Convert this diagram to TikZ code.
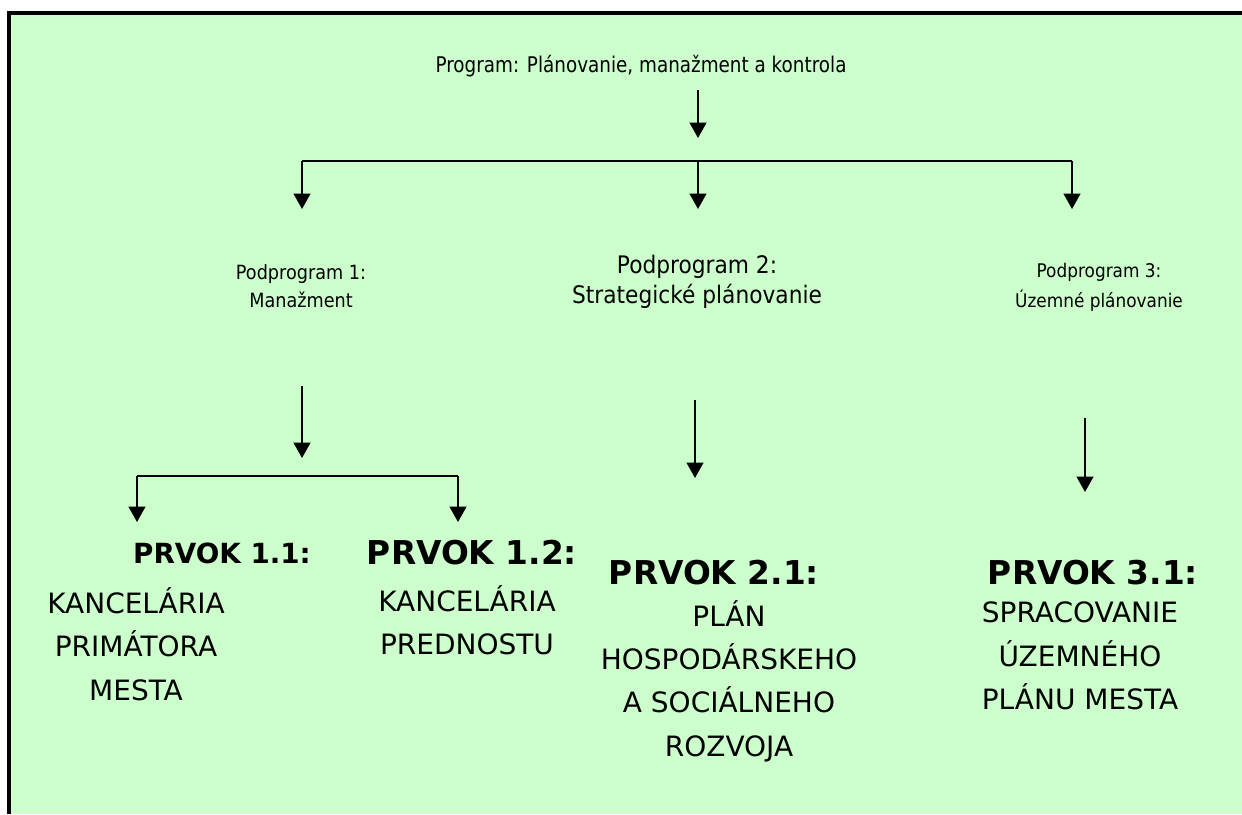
\documentclass[tikz,border=0pt]{standalone}
\usepackage{fontspec}
\setmainfont{DejaVu Sans}
\newfontfamily\nfont[FakeStretch=0.9]{DejaVu Sans}
\newfontfamily\tfont[FakeStretch=0.85]{DejaVu Sans}
\usetikzlibrary{arrows.meta}
\definecolor{bgg}{HTML}{CCFFCC}
\tikzset{
  arr/.style={line width=1.5pt,-{Triangle[length=11.5pt,width=12.5pt]}},
  bar/.style={line width=1.5pt},
  txt/.style={inner sep=0pt,align=center,text=black},
  title/.style={txt,font=\fontsize{24.6pt}{28pt}\selectfont\bfseries},
  body/.style={txt,font=\fontsize{21pt}{32.5pt}\selectfont},
}
\begin{document}
\begin{tikzpicture}[x=0.75pt,y=-0.75pt]
\useasboundingbox (0,0) rectangle (1242,814);
\fill[white] (0,0) rectangle (1242,814);
\fill[bgg] (9,13) rectangle (1242,814);
\draw[line width=3pt] (9,814) -- (9,13) -- (1242,13);

% top
\node[txt,font=\tfont\fontsize{16.2pt}{19pt}\selectfont] (top) at (641,66) {Program: Plánovanie, manažment a kontrola};
\coordinate (a0s) at (698,90);
\coordinate (a0e) at (698,138);
\draw[arr] (a0s) -- (a0e);
\coordinate (bl) at (302,161);
\coordinate (bm) at (698,161);
\coordinate (br) at (1072,161);
\coordinate (tl) at (302,209);
\coordinate (tm) at (698,209);
\coordinate (tr) at (1072,209);
\draw[bar] (bl) -- (br);
\draw[arr] (bl) -- (tl);
\draw[arr] (bm) -- (tm);
\draw[arr] (br) -- (tr);

% podprogramy
\node[txt,font=\nfont\fontsize{14.7pt}{21pt}\selectfont] (p1) at (301,286) {Podprogram 1:\\Manažment};
\node[txt,font=\nfont\fontsize{18.1pt}{22.5pt}\selectfont] (p2) at (697,282) {Podprogram 2:\\Strategické plánovanie};
\node[txt,font=\nfont\fontsize{14.1pt}{22.5pt}\selectfont] (p3) at (1099,287) {Podprogram 3:\\Územné plánovanie};

% second level
\coordinate (c1s) at (302,386);
\coordinate (c1e) at (302,458);
\draw[arr] (c1s) -- (c1e);
\coordinate (d1l) at (137,476);
\coordinate (d1r) at (458,476);
\coordinate (e1l) at (137,522);
\coordinate (e1r) at (458,522);
\draw[bar] (d1l) -- (d1r);
\draw[arr] (d1l) -- (e1l);
\draw[arr] (d1r) -- (e1r);
\coordinate (c2s) at (695,400);
\coordinate (c2e) at (695,478);
\draw[arr] (c2s) -- (c2e);
\coordinate (c3s) at (1085,418);
\coordinate (c3e) at (1085,492);
\draw[arr] (c3s) -- (c3e);

% prvky
\node[title,font=\fontsize{20.8pt}{25pt}\selectfont\bfseries] (t11) at (222,553) {PRVOK 1.1:};
\node[body] (b11) at (136,644) {KANCELÁRIA\\PRIMÁTORA\\MESTA};
\node[title] (t12) at (472,553) {PRVOK 1.2:};
\node[body] (b12) at (467,620) {KANCELÁRIA\\PREDNOSTU};
\node[title] (t21) at (714,573) {PRVOK 2.1:};
\node[body] (b21) at (729,681) {PLÁN\\HOSPODÁRSKEHO\\A SOCIÁLNEHO\\ROZVOJA};
\node[title] (t31) at (1093,573) {PRVOK 3.1:};
\node[body] (b31) at (1080,656) {SPRACOVANIE\\ÚZEMNÉHO\\PLÁNU MESTA};
\end{tikzpicture}
\end{document}
